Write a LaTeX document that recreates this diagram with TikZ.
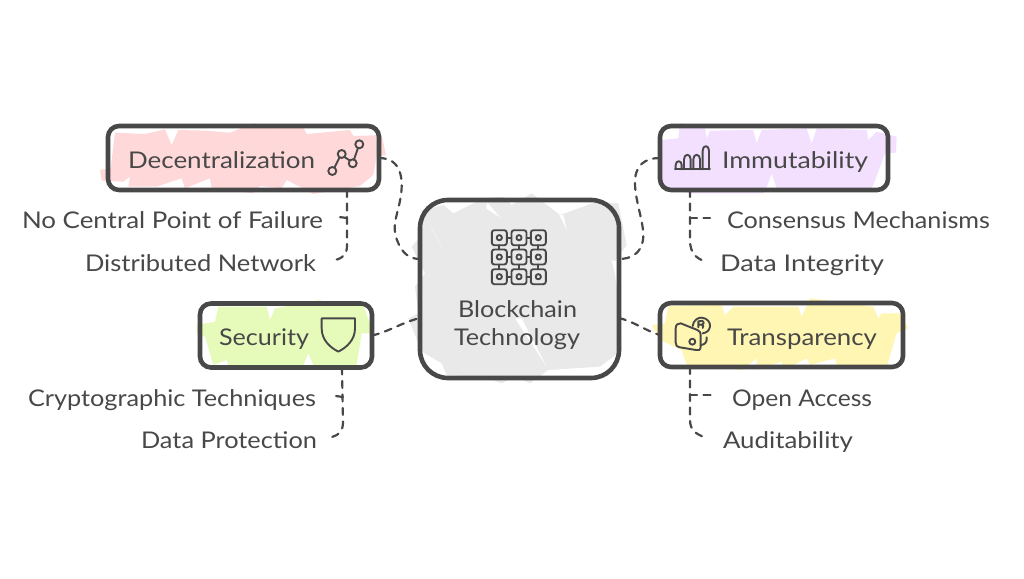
\documentclass[tikz,border=0pt]{standalone}
\usepackage{fontspec}
\setmainfont{Lato}
\usetikzlibrary{calc}
\definecolor{ink}{HTML}{484848}
\definecolor{fred}{HTML}{FFD9D9}
\definecolor{fpur}{HTML}{F3E0FF}
\definecolor{fyel}{HTML}{FFF6B3}
\definecolor{fgrn}{HTML}{E6FBBA}
\definecolor{fgry}{HTML}{E9E9E9}
\newcommand{\wtxt}[2]{\resizebox{#1pt}{\height}{#2}}
\tikzset{
 boxn/.style={draw=ink,line width=4.6pt,rounded corners=11pt,inner sep=0pt,outer sep=0pt},
 lbl/.style={text=ink,inner sep=0pt,outer sep=0pt,anchor=base west,font=\fontsize{23}{27}\selectfont},
 conn/.style={draw=ink,line width=2.2pt,dash pattern=on 7pt off 6.5pt,line cap=round},
 icn/.style={draw=ink,line width=1.9pt,line join=round,line cap=round},
}
\begin{document}
\begin{tikzpicture}[x=1pt,y=-1pt]
\useasboundingbox (0,0) rectangle (1024,578);
% sketched fills
\begin{scope}[shift={(90,110)},scale=1/3]
\fill[fred] (30,180)--(62,175)--(75,68)--(165,72)--(225,58)--(245,105)--(265,60)--(345,62)--(420,68)--(490,40)--(560,55)--(640,52)--(650,72)--(780,60)--(790,78)--(875,75)--(888,135)--(860,140)--(850,195)--(810,228)--(670,252)--(590,210)--(575,235)--(510,228)--(490,250)--(365,235)--(360,205)--(285,235)--(275,205)--(200,230)--(115,230)--(120,200)--(100,215)--(35,212)--cycle;
\end{scope}
\begin{scope}[shift={(610,110)},scale=1/3]
\fill[fpur] (155,90)--(205,85)--(210,40)--(285,50)--(290,85)--(300,62)--(430,60)--(440,100)--(455,60)--(590,55)--(605,100)--(620,55)--(770,60)--(775,90)--(800,65)--(860,80)--(858,128)--(825,130)--(790,225)--(780,240)--(640,235)--(500,235)--(485,190)--(470,232)--(460,250)--(240,250)--(155,235)--cycle;
\end{scope}
\begin{scope}[shift={(610,290)},scale=1/3]
\fill[fyel] (125,105)--(165,100)--(175,48)--(335,45)--(345,75)--(370,50)--(565,50)--(575,80)--(600,25)--(790,50)--(805,85)--(815,70)--(870,70)--(895,115)--(860,130)--(832,225)--(680,225)--(675,205)--(600,225)--(590,205)--(520,240)--(515,215)--(440,240)--(440,205)--(395,240)--(230,225)--(215,180)--(150,150)--cycle;
\end{scope}
\begin{scope}[shift={(180,290)},scale=1/3]
\fill[fgrn] (50,105)--(105,95)--(115,50)--(260,50)--(270,90)--(285,55)--(420,30)--(440,45)--(550,45)--(580,130)--(545,130)--(530,225)--(400,225)--(385,190)--(370,225)--(285,240)--(145,225)--(140,210)--(100,225)--(75,140)--(50,130)--cycle;
\end{scope}
\begin{scope}[shift={(400,180)},scale=1/3]
\fill[fgry] (35,200)--(65,165)--(65,90)--(130,75)--(160,100)--(250,55)--(310,50)--(335,75)--(395,40)--(480,105)--(590,65)--(655,70)--(680,195)--(640,250)--(660,385)--(665,510)--(640,530)--(600,560)--(445,570)--(390,610)--(345,590)--(305,610)--(245,590)--(140,585)--(125,550)--(65,515)--(25,415)--(55,400)--(45,320)--(75,280)--cycle;
\fill[white] (88,130)--(130,208)--(103,160)--cycle (258,85)--(300,112)--(262,68)--cycle (478,105)--(500,148)--(490,105)--cycle (345,415)--(440,560)--(365,415)--cycle (635,240)--(645,280)--(655,250)--cycle;
\end{scope}
% boxes
\node[boxn,minimum width=271pt,minimum height=64pt] (dec) at (243.5,158) {};
\node[boxn,minimum width=228pt,minimum height=64pt] (imm) at (774,158) {};
\node[boxn,minimum width=172pt,minimum height=64pt] (sec) at (286,335.5) {};
\node[boxn,minimum width=243pt,minimum height=64pt] (tra) at (781.5,335) {};
\node[boxn,minimum width=199pt,minimum height=178pt,rounded corners=28pt] (ctr) at (519.5,289) {};
% labels
\node[lbl] (tdec) at (128,168) {\wtxt{187}{Decentralization}};
\node[lbl] (tno) at (22,228) {\wtxt{301}{No Central Point of Failure}};
\node[lbl] (tdis) at (85,271) {\wtxt{231}{Distributed Network}};
\node[lbl] (timm) at (722,168) {\wtxt{146}{Immutability}};
\node[lbl] (tcon) at (727,228) {\wtxt{263}{Consensus Mechanisms}};
\node[lbl] (tint) at (720,271) {\wtxt{164}{Data Integrity}};
\node[lbl] (tsec) at (219,345) {\wtxt{90}{Security}};
\node[lbl] (ttra) at (727,345) {\wtxt{150}{Transparency}};
\node[lbl] (tcry) at (28,406) {\wtxt{288}{Cryptographic Techniques}};
\node[lbl] (tpro) at (141,448) {\wtxt{176}{Data Protection}};
\node[lbl] (topn) at (732,406) {\wtxt{140}{Open Access}};
\node[lbl] (taud) at (723,448) {\wtxt{130}{Auditability}};
\node[lbl] (tblo) at (458,317) {\wtxt{119}{Blockchain}};
\node[lbl] (ttec) at (454,345) {\wtxt{126}{Technology}};
% connector ends
\coordinate (edis) at (335,260);
\coordinate (eno) at (339,217);
\coordinate (edata) at (704,261);
\coordinate (econ) at (710,218);
\coordinate (eopn) at (712,395);
\coordinate (eaud) at (704,437);
\coordinate (ecry) at (336,396);
\coordinate (epro) at (332,437);
% connectors
\draw[conn] (dec.east) .. controls (402,158) and (403,180) .. (401,195) .. controls (398,215) and (391,225) .. (397,240) .. controls (402,254) and (410,259) .. (ctr.west |- 0,259);
\draw[conn] (imm.west) .. controls (645,158) and (634,165) .. (635,185) .. controls (636,205) and (645,225) .. (643,240) .. controls (641,254) and (630,259) .. (ctr.east |- 0,259);
\draw[conn] (sec.east) .. controls (388,332) and (403,322) .. (ctr.west |- 0,318);
\draw[conn] (ctr.east |- 0,318) .. controls (635,322) and (648,332) .. (tra.west);
\draw[conn] (dec.south -| 347,0) -- (347,245) .. controls (347,255) and (343,258) .. (edis);
\draw[conn] (347,218) -- (eno);
\draw[conn] (imm.south -| 690,0) -- (690,240) .. controls (690,253) and (696,258) .. (edata);
\draw[conn] (690,218) -- (econ);
\draw[conn] (tra.south -| 690,0) -- (690,420) .. controls (690,430) and (696,434) .. (eaud);
\draw[conn] (690,395) -- (eopn);
\draw[conn] (sec.south -| 342,0) -- (343,422) .. controls (343,431) and (339,435) .. (epro);
\draw[conn] (343,397) -- (ecry);
% icons
\foreach \x in {499.3,519,538.3} \foreach \y in {237.7,257,276.7} {
  \draw[icn] (\x-7.5,\y-7.5) [rounded corners=2.5pt] rectangle (\x+7.5,\y+7.5);
  \draw[icn] (\x,\y) circle (2.6);
}
\foreach \y in {237.7,257,276.7} {\draw[icn] (506.8,\y)--(511.5,\y) (526.5,\y)--(530.8,\y);}
\foreach \x in {499.3,519,538.3} {\draw[icn] (\x,245.2)--(\x,249.5) (\x,264.5)--(\x,269.2);}
\draw[icn] (332.3,171) circle (4) (341.7,154) circle (4) (352.7,163.3) circle (4) (359.3,144.3) circle (4);
\draw[icn] (334.5,167.5)--(339.5,157.5) (344.5,157)--(349.8,160.5) (354,159.5)--(358,148);
\begin{scope}[shift={(610,110)},scale=1/3]
\draw[icn] (195,178)--(300,178);
\draw[icn] (197,178) -- (197,165) .. controls (197,150) and (215,150) .. (215,165) -- (215,178);
\draw[icn] (222,178) -- (222,148) .. controls (222,130) and (242,130) .. (242,148) -- (242,178);
\draw[icn] (250,178) -- (250,148) .. controls (250,130) and (270,130) .. (270,148) -- (270,178);
\draw[icn] (278,178) -- (278,122) .. controls (278,104) and (297,104) .. (297,122) -- (297,178);
\end{scope}
\begin{scope}[shift={(180,290)},scale=1/3]
\draw[icn] (425,85)--(525,85)--(525,115) .. controls (525,150) and (500,172) .. (475,185) .. controls (450,172) and (425,150) .. (425,115)--cycle;
\end{scope}
\begin{scope}[shift={(610,290)},scale=1/3]
\draw[icn] (212,100) -- (262,120) .. controls (270,123) and (272,128) .. (272,135) -- (272,170) .. controls (272,180) and (265,183) .. (258,180) -- (210,172) .. controls (200,170) and (197,165) .. (197,158) -- (197,115) .. controls (197,105) and (204,98) .. (212,100);
\draw[icn] (247,155) circle (9);
\draw[icn] (248,108) .. controls (250,90) and (265,82) .. (275,83) .. controls (292,84) and (302,98) .. (300,110) .. controls (298,122) and (290,128) .. (278,130);
\draw[icn] (265,112)--(265,94) .. controls (272,90) and (282,92) .. (281,100) .. controls (281,104) and (274,104) .. (266,104) (270,104) .. controls (280,104) and (284,110) .. (278,114);
\draw[icn] (272,165) .. controls (285,165) and (292,155) .. (290,142);
\end{scope}
\end{tikzpicture}
\end{document}
